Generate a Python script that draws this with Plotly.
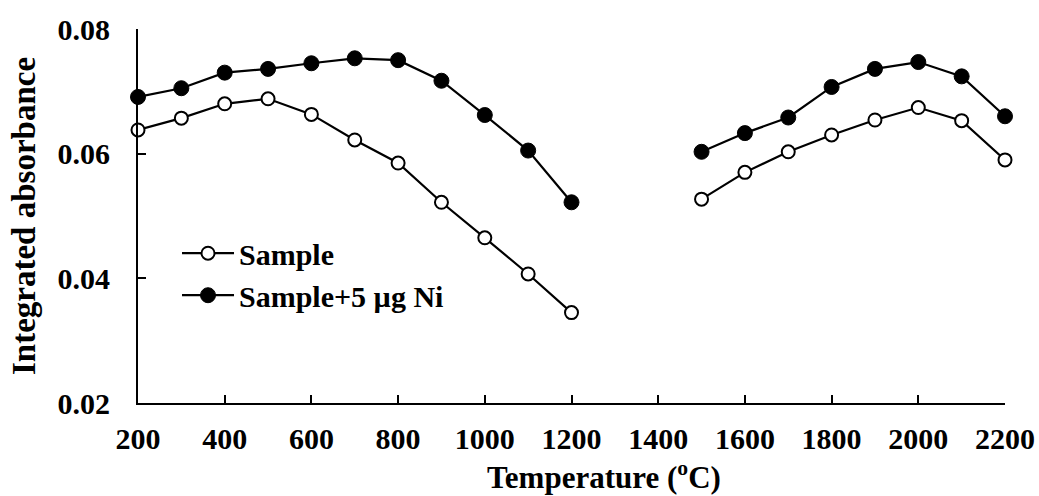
import plotly.graph_objects as go

temperature = [200, 300, 400, 500, 600, 700, 800, 900, 1000, 1100, 1200, 1300, 1400,
               1500, 1600, 1700, 1800, 1900, 2000, 2100, 2200]
sample = [0.0638, 0.0657, 0.0680, 0.0688, 0.0663, 0.0622, 0.0585, 0.0522, 0.0465, 0.0407, 0.0345,
          None, None,
          0.0527, 0.0570, 0.0603, 0.0630, 0.0654, 0.0674, 0.0653, 0.0590]
sample_ni = [0.0691, 0.0705, 0.0730, 0.0736, 0.0745, 0.0753, 0.0750, 0.0717, 0.0662, 0.0605, 0.0522,
             None, None,
             0.0603, 0.0633, 0.0658, 0.0707, 0.0736, 0.0747, 0.0724, 0.0660]
x_ticks = [200, 400, 600, 800, 1000, 1200, 1400, 1600, 1800, 2000, 2200]
y_ticks = [0.02, 0.04, 0.06, 0.08]

FONT = "Liberation Serif, Times New Roman, serif"

fig = go.Figure()
fig.add_trace(go.Scatter(
    x=temperature, y=sample, name="Sample", mode="lines+markers",
    connectgaps=False, cliponaxis=False,
    line=dict(color="black", width=2.2),
    marker=dict(symbol="circle", size=13, color="white", line=dict(color="black", width=2)),
))
fig.add_trace(go.Scatter(
    x=temperature, y=sample_ni, name="Sample+5 µg Ni", mode="lines+markers",
    connectgaps=False, cliponaxis=False,
    line=dict(color="black", width=2.2),
    marker=dict(symbol="circle", size=15, color="black", line=dict(color="black", width=1)),
))

fig.update_layout(
    width=1039, height=496,
    margin=dict(l=138, r=34, t=29, b=93, autoexpand=False),
    paper_bgcolor="white", plot_bgcolor="white",
    font=dict(family=FONT, size=30, color="black", weight="bold"),
    showlegend=True,
    legend=dict(x=0.045, y=0.47, xanchor="left", yanchor="top",
                bgcolor="rgba(0,0,0,0)", font=dict(size=30, weight="bold", family=FONT),
                itemwidth=52, tracegroupgap=0),
    annotations=[dict(
        text="Temperature (<sup>o</sup>C)", xref="paper", yref="paper",
        x=0.5375, y=-0.195, xanchor="center", yanchor="middle", showarrow=False,
        font=dict(size=31, weight="bold", family=FONT, color="black"),
    )],
)
fig.update_xaxes(
    range=[200, 2200], tickvals=x_ticks, ticktext=[str(v) for v in x_ticks],
    showline=True, linecolor="black", linewidth=2, mirror=False,
    ticks="inside", ticklen=8, tickwidth=2, tickcolor="black",
    showgrid=False, zeroline=False, automargin=False,
    tickfont=dict(size=30, weight="bold", family=FONT),
    ticklabelstandoff=8,
)
fig.update_yaxes(
    range=[0.02, 0.08], tickvals=y_ticks, ticktext=["0.02", "0.04", "0.06", "0.08"],
    showline=True, linecolor="black", linewidth=2, mirror=False,
    ticks="inside", ticklen=8, tickwidth=2, tickcolor="black",
    showgrid=False, zeroline=False, automargin=False,
    tickfont=dict(size=30, weight="bold", family=FONT),
    ticklabelstandoff=20,
    title=dict(text="Integrated absorbance", font=dict(size=33, weight="bold", family=FONT), standoff=12),
)

fig.write_html("out.html")
